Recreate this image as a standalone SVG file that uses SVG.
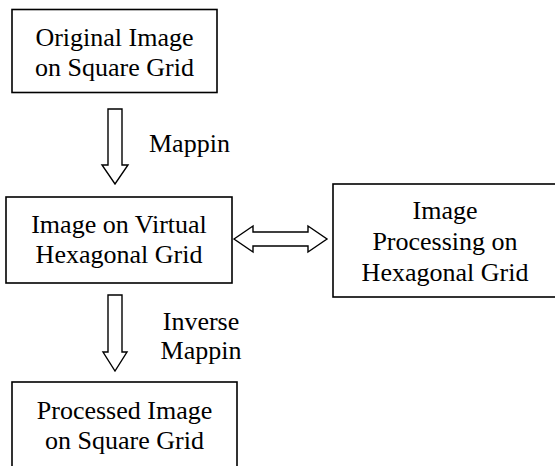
<svg xmlns="http://www.w3.org/2000/svg" width="555" height="466" viewBox="0 0 555 466">
  <style>
    .box { fill: #ffffff; stroke: #000000; stroke-width: 1.6; }
    .arrow { fill: #ffffff; stroke: #000000; stroke-width: 1.4; stroke-linejoin: miter; }
    .c { text-anchor: middle; }
  </style>
  <rect width="555" height="466" fill="#ffffff"/>

  <g font-family="Liberation Serif, Times New Roman, serif" font-size="26" fill="#000000">
    <g id="original">
      <rect class="box" x="12" y="9.5" width="205" height="83"/>
      <text class="c" x="114.5" y="46">Original Image</text>
      <text class="c" x="114.5" y="76">on Square Grid</text>
    </g>

    <g id="virtual-hex">
      <rect class="box" x="6" y="197" width="226" height="86"/>
      <text class="c" x="119" y="233">Image on Virtual</text>
      <text class="c" x="119" y="263">Hexagonal Grid</text>
    </g>

    <g id="hex-processing">
      <rect class="box" x="333" y="184" width="224" height="113"/>
      <text class="c" x="445" y="219">Image</text>
      <text class="c" x="445" y="250">Processing on</text>
      <text class="c" x="445" y="281">Hexagonal Grid</text>
    </g>

    <g id="processed">
      <rect class="box" x="12" y="382" width="225" height="100"/>
      <text class="c" x="124.5" y="419">Processed Image</text>
      <text class="c" x="124.5" y="449">on Square Grid</text>
    </g>

    <!-- hollow block arrows and their labels -->
    <g id="connectors">
      <polygon class="arrow" points="108,109 122,109 122,165 128,165 115,184 102,165 108,165"/>
      <polygon class="arrow" points="108,295 122,295 122,352 127,352 115,371 103,352 108,352"/>
      <polygon class="arrow" points="234,239 253,226 253,232 308,232 308,226 327,239 308,252 308,246 253,246 253,252"/>
      <text x="149" y="152">Mappin</text>
      <text class="c" x="201" y="330">Inverse</text>
      <text class="c" x="201" y="359">Mappin</text>
    </g>
  </g>
</svg>
